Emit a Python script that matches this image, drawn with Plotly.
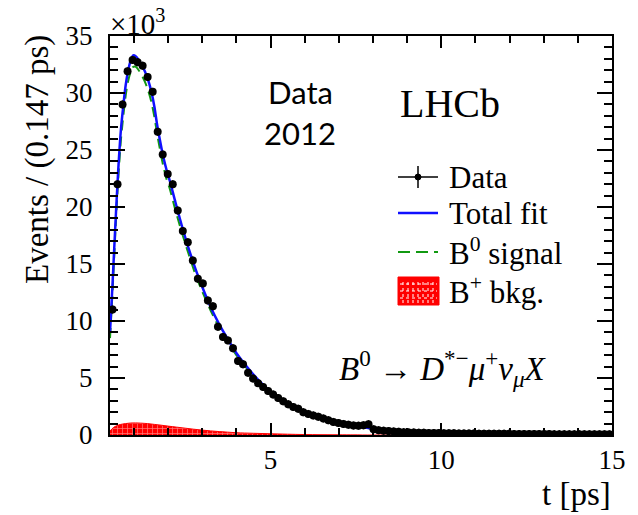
import plotly.graph_objects as go

# ---------------- data (values in units of 10^3 events) ----------------
bin_width = 0.147
t_min, t_max = 0.3, 15.0
n_bins = 100
data_t = [round(t_min + bin_width * (i + 0.5), 4) for i in range(n_bins)]
data_y = [
    11.0, 22.0, 29.0, 31.9, 32.9, 32.7, 32.4, 31.4, 30.1, 26.6,
    24.6, 22.9, 22.0, 19.7, 17.9, 16.9, 15.3, 13.7, 13.3, 11.8,
    11.3, 9.5, 8.6, 8.3, 7.6, 6.5, 6.2, 5.45, 4.95, 4.55,
    4.2, 3.85, 3.55, 3.25, 2.95, 2.7, 2.45, 2.3, 2.0, 1.85,
    1.72, 1.6, 1.45, 1.3, 1.15, 1.05, 0.97, 0.9, 0.83, 0.82,
    0.85, 0.95, 0.5, 0.42, 0.38, 0.34, 0.31, 0.28, 0.25, 0.23,
    0.22, 0.2, 0.19, 0.18, 0.17, 0.165, 0.16, 0.155, 0.15, 0.14,
    0.14, 0.135, 0.13, 0.12, 0.12, 0.115, 0.11, 0.11, 0.1, 0.1,
    0.095, 0.09, 0.09, 0.088, 0.085, 0.08, 0.08, 0.078, 0.075, 0.072,
    0.07, 0.07, 0.068, 0.065, 0.064, 0.062, 0.06, 0.06, 0.058, 0.056,
]
data_err = 0.35

fit_t = [0.30, 0.37, 0.45, 0.54, 0.62, 0.69, 0.76, 0.82, 0.90, 0.98,
         1.06, 1.14, 1.22, 1.32, 1.42, 1.52, 1.60, 1.67, 1.76, 1.86,
         1.96, 2.05, 2.20, 2.40, 2.60, 2.80, 3.00, 3.25, 3.50, 3.75,
         4.00, 4.25, 4.50, 4.75, 5.00, 5.50, 6.00, 6.50, 7.00, 7.50,
         8.00, 9.00, 10.0, 11.0, 12.0, 13.0, 15.0]
total_fit = [9.0, 13.0, 18.0, 23.2, 26.8, 28.9, 30.7, 31.8, 32.8, 33.3,
             33.2, 32.9, 32.5, 31.9, 31.1, 30.0, 28.8, 27.4, 25.9, 24.4,
             23.2, 22.3, 20.6, 18.4, 16.4, 14.6, 13.0, 11.2, 9.7, 8.4,
             7.2, 6.2, 5.3, 4.5, 3.8, 2.75, 2.0, 1.45, 1.05, 0.78,
             0.55, 0.3, 0.17, 0.1, 0.07, 0.05, 0.03]
signal_fit = [8.5, 12.3, 17.3, 22.4, 25.9, 28.0, 29.8, 30.9, 31.8, 32.3,
              32.3, 32.0, 31.6, 31.0, 30.2, 29.1, 27.9, 26.6, 25.1, 23.6,
              22.4, 21.6, 19.9, 17.8, 15.9, 14.1, 12.6, 10.9, 9.4, 8.2,
              7.0, 6.05, 5.2, 4.45, 3.75, 2.72, 1.98, 1.44, 1.04, 0.77,
              0.55, 0.3, 0.17, 0.1, 0.07, 0.05, 0.03]

bkg_t = [0.30, 0.40, 0.50, 0.60, 0.75, 0.90, 1.05, 1.20, 1.40, 1.60,
         1.80, 2.00, 2.25, 2.50, 2.75, 3.00, 3.25, 3.50, 3.75, 4.00,
         4.50, 5.00, 5.50, 6.00, 7.00, 8.00, 15.0]
bkg_fit = [0.35, 0.65, 0.82, 0.92, 1.0, 1.05, 1.06, 1.04, 1.0, 0.93,
           0.86, 0.78, 0.69, 0.6, 0.51, 0.43, 0.36, 0.3, 0.25, 0.2,
           0.15, 0.11, 0.07, 0.04, 0.015, 0.0, 0.0]

legend_labels = ["Data", "Total fit", "B<sup>0</sup> signal", "B<sup>+</sup> bkg."]

# ---------------- layout geometry (pixels) ----------------
W, H = 638, 515
PL, PR, PT, PB = 110, 612, 36, 435


def px(x):
    return (x - PL) / (PR - PL)


def py(y):
    return (PB - y) / (PB - PT)


SERIF = "Liberation Serif"
BLUE = "#1010ff"
GREEN = "#119911"
RED = "#ff0000"

fig = go.Figure()

fig.add_trace(go.Scatter(
    x=bkg_t, y=bkg_fit, mode="lines", fill="tozeroy",
    line=dict(color=RED, width=1, shape="spline"),
    fillcolor=RED,
    fillpattern=dict(shape="+", fgcolor="white", bgcolor=RED, size=5, solidity=0.25),
    showlegend=False, hoverinfo="skip"))

fig.add_trace(go.Scatter(
    x=fit_t, y=signal_fit, mode="lines",
    line=dict(color=GREEN, width=2, dash="10px,6px", shape="spline", smoothing=0.8),
    showlegend=False))

fig.add_trace(go.Scatter(
    x=fit_t, y=total_fit, mode="lines",
    line=dict(color=BLUE, width=2.5, shape="spline", smoothing=0.8),
    showlegend=False))

fig.add_trace(go.Scatter(
    x=data_t, y=data_y, mode="markers",
    marker=dict(color="black", size=8),
    error_y=dict(type="constant", value=data_err, color="black", thickness=1.5, width=0),
    error_x=dict(type="constant", value=bin_width / 2, color="black", thickness=1.5, width=0),
    showlegend=False))

axis_common = dict(
    showline=True, linecolor="black", linewidth=2, mirror="ticks",
    ticks="inside", tickcolor="black", tickwidth=1.5,
    showgrid=False, zeroline=False,
    tickfont=dict(family=SERIF, size=27, color="black"),
)

fig.update_xaxes(
    range=[t_min, t_max], tickvals=[5, 10, 15], ticklen=12,
    minor=dict(dtick=1, tick0=0, ticks="inside", ticklen=7, tickcolor="black", tickwidth=1.5),
    ticklabelstandoff=0,
    **axis_common)
fig.update_yaxes(
    range=[0, 35], tickvals=[0, 5, 10, 15, 20, 25, 30, 35], ticklen=15,
    minor=dict(dtick=1, tick0=0, ticks="inside", ticklen=8, tickcolor="black", tickwidth=1.5),
    ticklabelstandoff=10,
    **axis_common)

annotations = [
    dict(text="Events / (0.147 ps)", textangle=-90, x=px(37), y=py(160),
         xanchor="center", yanchor="middle", font=dict(family=SERIF, size=33)),
    dict(text="t [ps]", x=px(613), y=py(494), xanchor="right", yanchor="middle",
         font=dict(family=SERIF, size=33)),
    dict(text="×10<sup>3</sup>", x=px(108), y=py(42), xanchor="left", yanchor="bottom",
         font=dict(family=SERIF, size=29)),
    dict(text="Data", x=px(300), y=py(92), xanchor="center", yanchor="middle",
         font=dict(family="Lato", size=31)),
    dict(text="2012", x=px(300), y=py(133), xanchor="center", yanchor="middle",
         font=dict(family="Lato", size=31)),
    dict(text="LHCb", x=px(450), y=py(103), xanchor="center", yanchor="middle",
         font=dict(family=SERIF, size=40)),
    dict(text="<i>B</i><sup>0</sup> → <i>D</i><sup>*−</sup><i>μ</i><sup>+</sup><i>ν</i><sub><i>μ</i></sub><i>X</i>",
         x=px(443), y=py(368), xanchor="center", yanchor="middle",
         font=dict(family=SERIF, size=33)),
]

leg_y = [177, 213, 251, 290]
for lab, yy in zip(legend_labels, leg_y):
    annotations.append(dict(text=lab, x=px(447), y=py(yy), xanchor="left", yanchor="middle",
                            font=dict(family=SERIF, size=31)))
for a in annotations:
    a.update(xref="paper", yref="paper", showarrow=False)
    a["font"].setdefault("color", "black")

shapes = []
# Data symbol
shapes.append(dict(type="line", x0=px(398), x1=px(438), y0=py(177), y1=py(177),
                   line=dict(color="black", width=1.5)))
shapes.append(dict(type="line", x0=px(418), x1=px(418), y0=py(166), y1=py(188),
                   line=dict(color="black", width=1.5)))
shapes.append(dict(type="circle", x0=px(415), x1=px(421), y0=py(174), y1=py(180),
                   fillcolor="black", line=dict(color="black", width=1)))
# Total fit
shapes.append(dict(type="line", x0=px(398), x1=px(438), y0=py(213), y1=py(213),
                   line=dict(color=BLUE, width=2.5)))
# Signal
shapes.append(dict(type="line", x0=px(398), x1=px(438), y0=py(252), y1=py(252),
                   line=dict(color=GREEN, width=2, dash="12px,6px")))
# Bkg swatch
shapes.append(dict(type="rect", x0=px(398), x1=px(439), y0=py(305), y1=py(277),
                   fillcolor=RED, line=dict(color=RED, width=1)))
for xx in [403, 408, 413, 418, 423, 428, 433]:
    shapes.append(dict(type="line", x0=px(xx), x1=px(xx), y0=py(303), y1=py(279),
                       line=dict(color="white", width=1, dash="dot")))
for yy in [284, 291, 298]:
    shapes.append(dict(type="line", x0=px(400), x1=px(437), y0=py(yy), y1=py(yy),
                       line=dict(color="white", width=1, dash="dot")))
for s in shapes:
    s.update(xref="paper", yref="paper")

fig.update_layout(
    width=W, height=H,
    margin=dict(l=PL, r=W - PR, t=PT, b=H - PB, pad=0),
    paper_bgcolor="white", plot_bgcolor="white",
    font=dict(family=SERIF, color="black"),
    annotations=annotations, shapes=shapes,
    showlegend=False,
)

fig.write_html("out.html")
